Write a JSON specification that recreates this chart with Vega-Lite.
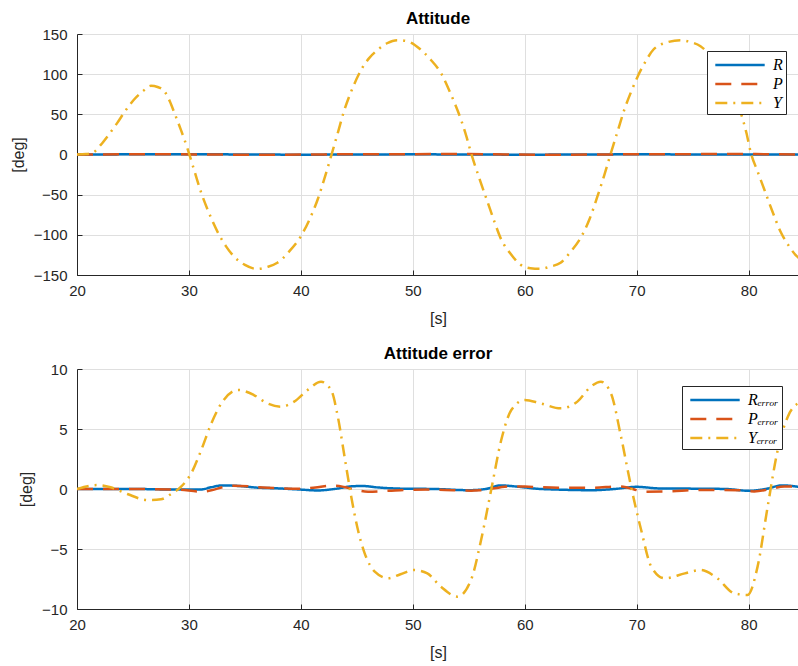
{
  "$schema": "https://vega.github.io/schema/vega-lite/v6.json",
  "padding": {"left": 10, "top": 10, "right": 0, "bottom": 2},
  "background": "white",
  "spacing": 19,
  "config": {
    "view": {"stroke": null},
    "font": "Liberation Sans",
    "axis": {
      "domainColor": "#262626", "domainWidth": 1,
      "tickColor": "#262626", "tickSize": -5, "tickWidth": 1,
      "labelColor": "#262626", "labelFont": "Liberation Sans", "labelFontSize": 15,
      "labelFlush": false, "labelOverlap": false,
      "titleColor": "#262626", "titleFont": "Liberation Sans", "titleFontSize": 16, "titleFontWeight": "normal",
      "gridColor": "#dfdfdf", "gridWidth": 1
    },
    "axisX": {"labelPadding": 13, "titlePadding": 12},
    "axisY": {"labelPadding": 15, "titlePadding": 7},
    "title": {"font": "Liberation Sans", "fontSize": 17, "fontWeight": "bold", "color": "#000000", "offset": -1},
    "legend": {
      "orient": "none", "title": null,
      "strokeColor": "#262626", "fillColor": "white", "padding": 3,
      "symbolType": "M-2.6,0H2.6", "symbolSize": 361, "symbolStrokeWidth": 2.5, "symbolOffset": 19,
      "labelFont": "Liberation Serif", "labelFontStyle": "italic", "labelFontSize": 16, "labelColor": "#000000",
      "rowPadding": 0, "labelOffset": 22
    }
  },
  "datasets": {
    "att": [
      {"t": 20, "s": "R", "v": 0}, {"t": 30, "s": "R", "v": 0.3}, {"t": 40, "s": "R", "v": -0.2}, {"t": 50, "s": "R", "v": 0.2}, {"t": 60, "s": "R", "v": -0.2}, {"t": 70, "s": "R", "v": 0.2}, {"t": 80, "s": "R", "v": 0}, {"t": 84.5, "s": "R", "v": 0.1},
      {"t": 20, "s": "P", "v": 0}, {"t": 28, "s": "P", "v": 0.3}, {"t": 36, "s": "P", "v": -0.3}, {"t": 45, "s": "P", "v": 0.3}, {"t": 55, "s": "P", "v": 0.5}, {"t": 62, "s": "P", "v": -0.3}, {"t": 72, "s": "P", "v": 0.4}, {"t": 80, "s": "P", "v": 0.5}, {"t": 84.5, "s": "P", "v": 0},
      {"t": 20, "s": "Y", "v": 0}, {"t": 20.8, "s": "Y", "v": 0.5}, {"t": 21.5, "s": "Y", "v": 3}, {"t": 22.1, "s": "Y", "v": 11.6}, {"t": 22.8, "s": "Y", "v": 24}, {"t": 23.6, "s": "Y", "v": 39.4}, {"t": 24.3, "s": "Y", "v": 54}, {"t": 25.1, "s": "Y", "v": 68.5}, {"t": 25.9, "s": "Y", "v": 79}, {"t": 26.6, "s": "Y", "v": 85.5}, {"t": 27.2, "s": "Y", "v": 84}, {"t": 27.8, "s": "Y", "v": 78.8}, {"t": 28.3, "s": "Y", "v": 66}, {"t": 28.7, "s": "Y", "v": 51.9}, {"t": 29.3, "s": "Y", "v": 30}, {"t": 29.9, "s": "Y", "v": 6.2}, {"t": 30.5, "s": "Y", "v": -21}, {"t": 31.1, "s": "Y", "v": -47.7}, {"t": 31.8, "s": "Y", "v": -73}, {"t": 32.6, "s": "Y", "v": -97.5}, {"t": 33.3, "s": "Y", "v": -114}, {"t": 34.0, "s": "Y", "v": -126.6}, {"t": 35.0, "s": "Y", "v": -137.5}, {"t": 36.1, "s": "Y", "v": -142.5}, {"t": 37.0, "s": "Y", "v": -140}, {"t": 37.9, "s": "Y", "v": -134.8}, {"t": 39.0, "s": "Y", "v": -120}, {"t": 40.0, "s": "Y", "v": -101.7}, {"t": 40.8, "s": "Y", "v": -80}, {"t": 41.5, "s": "Y", "v": -56}, {"t": 42.1, "s": "Y", "v": -30}, {"t": 42.7, "s": "Y", "v": -2}, {"t": 43.3, "s": "Y", "v": 27}, {"t": 43.9, "s": "Y", "v": 56}, {"t": 44.6, "s": "Y", "v": 82}, {"t": 45.4, "s": "Y", "v": 105.8}, {"t": 46.1, "s": "Y", "v": 120}, {"t": 46.9, "s": "Y", "v": 130.7}, {"t": 47.7, "s": "Y", "v": 138.5}, {"t": 48.6, "s": "Y", "v": 142.3}, {"t": 49.5, "s": "Y", "v": 141}, {"t": 50.7, "s": "Y", "v": 130.7}, {"t": 51.6, "s": "Y", "v": 118}, {"t": 52.5, "s": "Y", "v": 101.7}, {"t": 53.4, "s": "Y", "v": 75}, {"t": 54.3, "s": "Y", "v": 43.6}, {"t": 54.8, "s": "Y", "v": 22}, {"t": 55.2, "s": "Y", "v": 2}, {"t": 55.9, "s": "Y", "v": -28}, {"t": 56.7, "s": "Y", "v": -60}, {"t": 57.3, "s": "Y", "v": -84}, {"t": 57.9, "s": "Y", "v": -105.8}, {"t": 58.7, "s": "Y", "v": -123}, {"t": 59.6, "s": "Y", "v": -136.9}, {"t": 60.5, "s": "Y", "v": -141.5}, {"t": 61.4, "s": "Y", "v": -142.3}, {"t": 62.3, "s": "Y", "v": -139.5}, {"t": 63.2, "s": "Y", "v": -134.8}, {"t": 64.1, "s": "Y", "v": -121}, {"t": 65.0, "s": "Y", "v": -103.7}, {"t": 65.8, "s": "Y", "v": -80}, {"t": 66.5, "s": "Y", "v": -51.9}, {"t": 67.1, "s": "Y", "v": -26}, {"t": 67.7, "s": "Y", "v": 2}, {"t": 68.3, "s": "Y", "v": 29}, {"t": 68.9, "s": "Y", "v": 56}, {"t": 69.5, "s": "Y", "v": 78}, {"t": 70.1, "s": "Y", "v": 97.5}, {"t": 70.8, "s": "Y", "v": 116}, {"t": 71.5, "s": "Y", "v": 130.7}, {"t": 72.7, "s": "Y", "v": 139.5}, {"t": 73.9, "s": "Y", "v": 142.3}, {"t": 74.8, "s": "Y", "v": 140}, {"t": 75.7, "s": "Y", "v": 134.8}, {"t": 76.7, "s": "Y", "v": 121}, {"t": 77.6, "s": "Y", "v": 103}, {"t": 78.5, "s": "Y", "v": 80}, {"t": 79.3, "s": "Y", "v": 51.9}, {"t": 79.8, "s": "Y", "v": 27}, {"t": 80.2, "s": "Y", "v": 2}, {"t": 80.8, "s": "Y", "v": -21}, {"t": 81.4, "s": "Y", "v": -43.6}, {"t": 82.1, "s": "Y", "v": -70}, {"t": 82.9, "s": "Y", "v": -97.5}, {"t": 83.6, "s": "Y", "v": -114}, {"t": 84.3, "s": "Y", "v": -126.6}, {"t": 84.5, "s": "Y", "v": -129}
    ],
    "err": [
      {"t": 20, "s": "Rₑᵣᵣₒᵣ", "v": 0}, {"t": 25, "s": "Rₑᵣᵣₒᵣ", "v": 0}, {"t": 29, "s": "Rₑᵣᵣₒᵣ", "v": -0.05}, {"t": 31, "s": "Rₑᵣᵣₒᵣ", "v": -0.05}, {"t": 32, "s": "Rₑᵣᵣₒᵣ", "v": 0.15}, {"t": 33, "s": "Rₑᵣᵣₒᵣ", "v": 0.3}, {"t": 34.5, "s": "Rₑᵣᵣₒᵣ", "v": 0.25}, {"t": 36, "s": "Rₑᵣᵣₒᵣ", "v": 0.12}, {"t": 38, "s": "Rₑᵣᵣₒᵣ", "v": 0.05}, {"t": 40, "s": "Rₑᵣᵣₒᵣ", "v": -0.05}, {"t": 41.5, "s": "Rₑᵣᵣₒᵣ", "v": -0.12}, {"t": 43, "s": "Rₑᵣᵣₒᵣ", "v": 0}, {"t": 44.5, "s": "Rₑᵣᵣₒᵣ", "v": 0.22}, {"t": 45.5, "s": "Rₑᵣᵣₒᵣ", "v": 0.25}, {"t": 47, "s": "Rₑᵣᵣₒᵣ", "v": 0.12}, {"t": 49, "s": "Rₑᵣᵣₒᵣ", "v": 0.03}, {"t": 52, "s": "Rₑᵣᵣₒᵣ", "v": 0}, {"t": 55, "s": "Rₑᵣᵣₒᵣ", "v": -0.1}, {"t": 56.5, "s": "Rₑᵣᵣₒᵣ", "v": 0}, {"t": 57.8, "s": "Rₑᵣᵣₒᵣ", "v": 0.3}, {"t": 59.5, "s": "Rₑᵣᵣₒᵣ", "v": 0.18}, {"t": 61, "s": "Rₑᵣᵣₒᵣ", "v": 0.03}, {"t": 63, "s": "Rₑᵣᵣₒᵣ", "v": -0.05}, {"t": 66, "s": "Rₑᵣᵣₒᵣ", "v": -0.1}, {"t": 68, "s": "Rₑᵣᵣₒᵣ", "v": 0}, {"t": 70, "s": "Rₑᵣᵣₒᵣ", "v": 0.18}, {"t": 72, "s": "Rₑᵣᵣₒᵣ", "v": 0.05}, {"t": 75, "s": "Rₑᵣᵣₒᵣ", "v": 0.03}, {"t": 78, "s": "Rₑᵣᵣₒᵣ", "v": 0}, {"t": 80, "s": "Rₑᵣᵣₒᵣ", "v": -0.15}, {"t": 81.5, "s": "Rₑᵣᵣₒᵣ", "v": 0}, {"t": 83, "s": "Rₑᵣᵣₒᵣ", "v": 0.3}, {"t": 84.5, "s": "Rₑᵣᵣₒᵣ", "v": 0.18},
      {"t": 20, "s": "Pₑᵣᵣₒᵣ", "v": 0}, {"t": 25, "s": "Pₑᵣᵣₒᵣ", "v": 0}, {"t": 29, "s": "Pₑᵣᵣₒᵣ", "v": -0.05}, {"t": 31.1, "s": "Pₑᵣᵣₒᵣ", "v": -0.22}, {"t": 34, "s": "Pₑᵣᵣₒᵣ", "v": 0.28}, {"t": 37, "s": "Pₑᵣᵣₒᵣ", "v": 0.1}, {"t": 40, "s": "Pₑᵣᵣₒᵣ", "v": 0.03}, {"t": 43, "s": "Pₑᵣᵣₒᵣ", "v": 0.28}, {"t": 46, "s": "Pₑᵣᵣₒᵣ", "v": -0.22}, {"t": 48.9, "s": "Pₑᵣᵣₒᵣ", "v": -0.1}, {"t": 52, "s": "Pₑᵣᵣₒᵣ", "v": -0.05}, {"t": 55.2, "s": "Pₑᵣᵣₒᵣ", "v": -0.14}, {"t": 56.1, "s": "Pₑᵣᵣₒᵣ", "v": -0.1}, {"t": 58.8, "s": "Pₑᵣᵣₒᵣ", "v": 0.22}, {"t": 60, "s": "Pₑᵣᵣₒᵣ", "v": 0.2}, {"t": 63, "s": "Pₑᵣᵣₒᵣ", "v": 0.1}, {"t": 66, "s": "Pₑᵣᵣₒᵣ", "v": 0.1}, {"t": 68.5, "s": "Pₑᵣᵣₒᵣ", "v": 0.22}, {"t": 70.8, "s": "Pₑᵣᵣₒᵣ", "v": -0.22}, {"t": 72.7, "s": "Pₑᵣᵣₒᵣ", "v": -0.2}, {"t": 75.7, "s": "Pₑᵣᵣₒᵣ", "v": -0.08}, {"t": 79, "s": "Pₑᵣᵣₒᵣ", "v": -0.1}, {"t": 80.5, "s": "Pₑᵣᵣₒᵣ", "v": -0.2}, {"t": 83.2, "s": "Pₑᵣᵣₒᵣ", "v": 0.2}, {"t": 84.5, "s": "Pₑᵣᵣₒᵣ", "v": 0.22},
      {"t": 20, "s": "Yₑᵣᵣₒᵣ", "v": 0}, {"t": 21.8, "s": "Yₑᵣᵣₒᵣ", "v": 0.33}, {"t": 23.0, "s": "Yₑᵣᵣₒᵣ", "v": 0.14}, {"t": 24.5, "s": "Yₑᵣᵣₒᵣ", "v": -0.42}, {"t": 26.3, "s": "Yₑᵣᵣₒᵣ", "v": -0.92}, {"t": 27.5, "s": "Yₑᵣᵣₒᵣ", "v": -0.86}, {"t": 28.4, "s": "Yₑᵣᵣₒᵣ", "v": -0.42}, {"t": 29.3, "s": "Yₑᵣᵣₒᵣ", "v": 0.19}, {"t": 30.2, "s": "Yₑᵣᵣₒᵣ", "v": 1.3}, {"t": 31.1, "s": "Yₑᵣᵣₒᵣ", "v": 3.25}, {"t": 32.0, "s": "Yₑᵣᵣₒᵣ", "v": 5.47}, {"t": 33.0, "s": "Yₑᵣᵣₒᵣ", "v": 7.28}, {"t": 34.4, "s": "Yₑᵣᵣₒᵣ", "v": 8.25}, {"t": 35.8, "s": "Yₑᵣᵣₒᵣ", "v": 7.83}, {"t": 37.0, "s": "Yₑᵣᵣₒᵣ", "v": 7.14}, {"t": 38.2, "s": "Yₑᵣᵣₒᵣ", "v": 6.86}, {"t": 39.4, "s": "Yₑᵣᵣₒᵣ", "v": 7.28}, {"t": 40.6, "s": "Yₑᵣᵣₒᵣ", "v": 8.25}, {"t": 41.8, "s": "Yₑᵣᵣₒᵣ", "v": 8.94}, {"t": 42.7, "s": "Yₑᵣᵣₒᵣ", "v": 8.25}, {"t": 43.3, "s": "Yₑᵣᵣₒᵣ", "v": 6.03}, {"t": 43.9, "s": "Yₑᵣᵣₒᵣ", "v": 2.7}, {"t": 44.5, "s": "Yₑᵣᵣₒᵣ", "v": -0.64}, {"t": 45.1, "s": "Yₑᵣᵣₒᵣ", "v": -3.42}, {"t": 45.7, "s": "Yₑᵣᵣₒᵣ", "v": -5.36}, {"t": 46.6, "s": "Yₑᵣᵣₒᵣ", "v": -6.89}, {"t": 47.8, "s": "Yₑᵣᵣₒᵣ", "v": -7.44}, {"t": 48.9, "s": "Yₑᵣᵣₒᵣ", "v": -7.1}, {"t": 50.1, "s": "Yₑᵣᵣₒᵣ", "v": -6.75}, {"t": 51.3, "s": "Yₑᵣᵣₒᵣ", "v": -7.03}, {"t": 52.5, "s": "Yₑᵣᵣₒᵣ", "v": -8.14}, {"t": 54.0, "s": "Yₑᵣᵣₒᵣ", "v": -8.97}, {"t": 55.2, "s": "Yₑᵣᵣₒᵣ", "v": -7.58}, {"t": 56.1, "s": "Yₑᵣᵣₒᵣ", "v": -4.25}, {"t": 57.0, "s": "Yₑᵣᵣₒᵣ", "v": -0.08}, {"t": 57.9, "s": "Yₑᵣᵣₒᵣ", "v": 4.08}, {"t": 58.8, "s": "Yₑᵣᵣₒᵣ", "v": 6.58}, {"t": 60.0, "s": "Yₑᵣᵣₒᵣ", "v": 7.42}, {"t": 61.4, "s": "Yₑᵣᵣₒᵣ", "v": 7.14}, {"t": 63.2, "s": "Yₑᵣᵣₒᵣ", "v": 6.72}, {"t": 64.7, "s": "Yₑᵣᵣₒᵣ", "v": 7.28}, {"t": 65.9, "s": "Yₑᵣᵣₒᵣ", "v": 8.53}, {"t": 66.8, "s": "Yₑᵣᵣₒᵣ", "v": 8.94}, {"t": 67.7, "s": "Yₑᵣᵣₒᵣ", "v": 7.97}, {"t": 68.6, "s": "Yₑᵣᵣₒᵣ", "v": 4.36}, {"t": 69.5, "s": "Yₑᵣᵣₒᵣ", "v": 0.19}, {"t": 70.4, "s": "Yₑᵣᵣₒᵣ", "v": -3.42}, {"t": 71.3, "s": "Yₑᵣᵣₒᵣ", "v": -6.47}, {"t": 72.5, "s": "Yₑᵣᵣₒᵣ", "v": -7.44}, {"t": 74.3, "s": "Yₑᵣᵣₒᵣ", "v": -7.03}, {"t": 75.7, "s": "Yₑᵣᵣₒᵣ", "v": -6.75}, {"t": 77.2, "s": "Yₑᵣᵣₒᵣ", "v": -7.44}, {"t": 78.7, "s": "Yₑᵣᵣₒᵣ", "v": -8.69}, {"t": 79.9, "s": "Yₑᵣᵣₒᵣ", "v": -8.83}, {"t": 80.8, "s": "Yₑᵣᵣₒᵣ", "v": -6.47}, {"t": 81.7, "s": "Yₑᵣᵣₒᵣ", "v": -1.47}, {"t": 82.6, "s": "Yₑᵣᵣₒᵣ", "v": 3.25}, {"t": 83.5, "s": "Yₑᵣᵣₒᵣ", "v": 6.03}, {"t": 84.5, "s": "Yₑᵣᵣₒᵣ", "v": 7.2}
    ]
  },
  "vconcat": [
    {
      "title": "Attitude",
      "width": 722, "height": 241,
      "data": {"name": "att"},
      "mark": {"type": "line", "strokeWidth": 2.5, "interpolate": "monotone", "clip": true},
      "encoding": {
        "x": {"field": "t", "type": "quantitative", "title": "[s]", "scale": {"domain": [20, 84.5], "nice": false, "zero": false}, "axis": {"values": [20, 30, 40, 50, 60, 70, 80], "grid": true}},
        "y": {"field": "v", "type": "quantitative", "title": "[deg]", "scale": {"domain": [-150, 150], "nice": false}, "axis": {"values": [-150, -100, -50, 0, 50, 100, 150], "grid": true}},
        "color": {"field": "s", "type": "nominal", "scale": {"domain": ["R", "P", "Y"], "range": ["#0072BD", "#D95319", "#EDB120"]}, "legend": {"legendX": 630, "legendY": 17}},
        "strokeDash": {"field": "s", "type": "nominal", "scale": {"domain": ["R", "P", "Y"], "range": [[1, 0], [16, 10], [12, 6, 2, 6]]}, "legend": {"legendX": 630, "legendY": 17}}
      }
    },
    {
      "title": "Attitude error",
      "width": 722, "height": 240,
      "data": {"name": "err"},
      "mark": {"type": "line", "strokeWidth": 2.5, "interpolate": "monotone", "clip": true},
      "encoding": {
        "x": {"field": "t", "type": "quantitative", "title": "[s]", "scale": {"domain": [20, 84.5], "nice": false, "zero": false}, "axis": {"values": [20, 30, 40, 50, 60, 70, 80], "grid": true}},
        "y": {"field": "v", "type": "quantitative", "title": "[deg]", "scale": {"domain": [-10, 10], "nice": false}, "axis": {"values": [-10, -5, 0, 5, 10], "grid": true}},
        "color": {"field": "s", "type": "nominal", "scale": {"domain": ["Rₑᵣᵣₒᵣ", "Pₑᵣᵣₒᵣ", "Yₑᵣᵣₒᵣ"], "range": ["#0072BD", "#D95319", "#EDB120"]}, "legend": {"legendX": 605, "legendY": 17}},
        "strokeDash": {"field": "s", "type": "nominal", "scale": {"domain": ["Rₑᵣᵣₒᵣ", "Pₑᵣᵣₒᵣ", "Yₑᵣᵣₒᵣ"], "range": [[1, 0], [16, 10], [12, 6, 2, 6]]}, "legend": {"legendX": 605, "legendY": 17}}
      }
    }
  ],
  "resolve": {
    "scale": {"color": "independent", "strokeDash": "independent", "x": "independent", "y": "independent"},
    "legend": {"color": "independent", "strokeDash": "independent"}
  }
}
